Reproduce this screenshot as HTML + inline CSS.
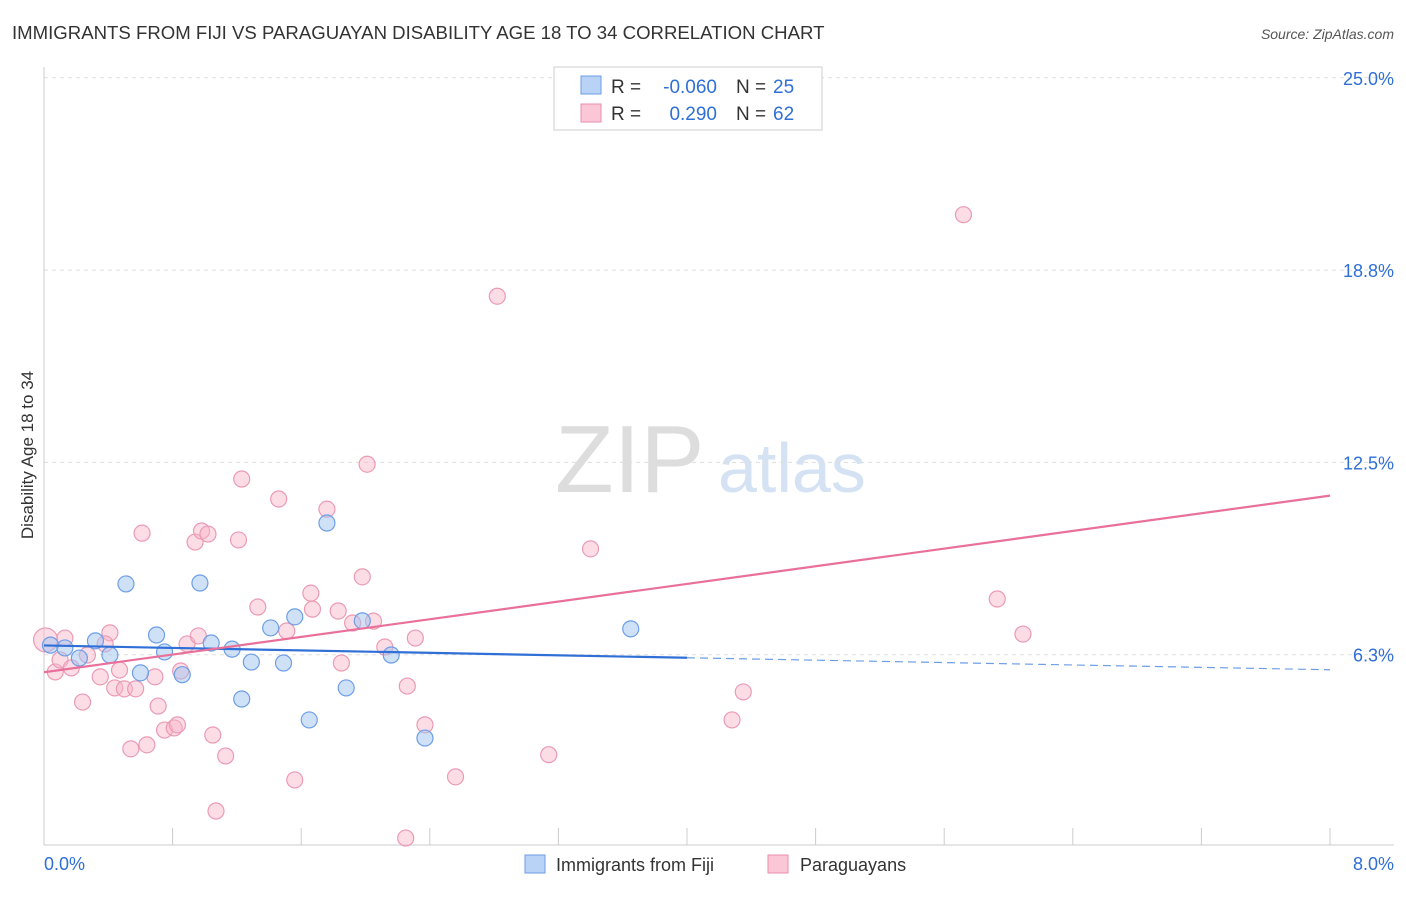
<!DOCTYPE html>
<html><head><meta charset="utf-8"><style>
body{margin:0;background:#fff;font-family:"Liberation Sans",sans-serif;}
svg text{font-family:"Liberation Sans",sans-serif;}
</style></head><body>
<svg id="chart" width="1406" height="892">
<text x="12" y="39" font-size="18.6" fill="#333">IMMIGRANTS FROM FIJI VS PARAGUAYAN DISABILITY AGE 18 TO 34 CORRELATION CHART</text>
<text x="1394" y="39" font-size="14" fill="#555" font-style="italic" text-anchor="end">Source: ZipAtlas.com</text>
<text x="555" y="492" font-size="96" fill="#ddd" font-family="Liberation Serif">ZIP</text>
<text x="718" y="492" font-size="70" fill="#d4e2f4">atlas</text>
<g id="grid"></g><g id="axes"></g>
<text transform="translate(33,455) rotate(-90)" font-size="17" fill="#333" text-anchor="middle">Disability Age 18 to 34</text>
<g id="marks"></g>
<g>
<rect x="554" y="67" width="268" height="63" fill="#fff" stroke="#ccc"/>
<rect x="581" y="76" width="20" height="18" fill="#b9d3f7" stroke="#6d9ee6"/>
<rect x="581" y="104" width="20" height="18" fill="#fbc6d6" stroke="#ea8fae"/>
<text x="611" y="93" font-size="19" fill="#333">R =</text>
<text x="717" y="93" font-size="19" fill="#2f6fd6" text-anchor="end">-0.060</text>
<text x="736" y="93" font-size="19" fill="#333">N =</text>
<text x="773" y="93" font-size="19" fill="#2f6fd6">25</text>
<text x="611" y="120" font-size="19" fill="#333">R =</text>
<text x="717" y="120" font-size="19" fill="#2f6fd6" text-anchor="end">0.290</text>
<text x="736" y="120" font-size="19" fill="#333">N =</text>
<text x="773" y="120" font-size="19" fill="#2f6fd6">62</text>
</g>
<g>
<rect x="525" y="855" width="20" height="18" fill="#b9d3f7" stroke="#6d9ee6"/>
<text x="556" y="871" font-size="18" fill="#333">Immigrants from Fiji</text>
<rect x="768" y="855" width="20" height="18" fill="#fbc6d6" stroke="#ea8fae"/>
<text x="800" y="871" font-size="18" fill="#333">Paraguayans</text>
</g>
</svg>
<script>
const yTicks=[6.25,12.5,18.75,25];
const yTickLabels=["6.3%","12.5%","18.8%","25.0%"];
const fijiX=[0.04,0.13,0.22,0.32,0.41,0.51,0.6,0.7,0.75,0.86,0.97,1.04,1.17,1.23,1.29,1.41,1.49,1.56,1.65,1.76,1.88,1.98,2.16,2.37,3.65];
const fijiY=[6.56,6.47,6.14,6.7,6.24,8.55,5.66,6.89,6.34,5.6,8.58,6.63,6.43,4.81,6.01,7.12,5.98,7.48,4.13,10.53,5.17,7.35,6.24,3.54,7.09];
const parX=[0.01,0.07,0.1,0.13,0.17,0.24,0.27,0.35,0.41,0.38,0.44,0.47,0.5,0.54,0.57,0.61,0.64,0.69,0.71,0.75,0.81,0.83,0.85,0.89,0.94,0.96,0.98,1.02,1.05,1.07,1.13,1.21,1.23,1.33,1.46,1.51,1.56,1.66,1.67,1.76,1.83,1.85,1.92,1.98,2.01,2.05,2.12,2.25,2.26,2.31,2.37,2.56,2.82,3.14,3.4,4.28,4.35,5.72,5.93,6.09];
const parY=[6.73,5.69,6.08,6.79,5.82,4.71,6.24,5.53,6.96,6.6,5.17,5.75,5.14,3.19,5.14,10.2,3.32,5.53,4.58,3.8,3.87,3.97,5.72,6.6,9.91,6.86,10.27,10.17,3.64,1.17,2.96,9.98,11.96,7.8,11.31,7.02,2.18,8.25,7.73,10.98,7.67,5.98,7.28,8.78,12.44,7.34,6.5,0.29,5.23,6.79,3.97,2.28,17.9,3.0,9.69,4.13,5.04,20.55,8.06,6.92];
const fijiTrend=[6.55,6.15,5.76];
const parTrend=[5.68,11.42];
const X=v=>44+v*160.75, Y=v=>847-v*30.77;
const ns="http://www.w3.org/2000/svg";
function mk(p,t,a){const e=document.createElementNS(ns,t);for(const k in a)e.setAttribute(k,a[k]);p.appendChild(e);return e;}
const grid=document.getElementById('grid'),axes=document.getElementById('axes'),marks=document.getElementById('marks');
yTicks.forEach((t,i)=>{
 const l=mk(grid,'line',{x1:44,x2:1394,y1:Y(t),y2:Y(t),stroke:'#ddd','stroke-dasharray':'4,4'});
 
 
 const tx=mk(axes,'text',{x:1394,y:Y(t)+7,'font-size':18,fill:'#2f6fd6','text-anchor':'end'});tx.textContent=yTickLabels[i];
 
 
});
const ax=mk(axes,'line',{x1:44,x2:1394,y1:845,y2:845,stroke:'#ccc'});


const ay=mk(axes,'line',{x1:44,x2:44,y1:67,y2:845,stroke:'#ccc'});


for(let i=1;i<=10;i++){const t=mk(axes,'line',{x1:X(i*0.8),x2:X(i*0.8),y1:828,y2:845,stroke:'#ccc'});
 
 }
[["0.0%",44,'start'],["8.0%",1394,'end']].forEach(a=>{const t=mk(axes,'text',{x:a[1],y:870,'font-size':18,fill:'#2f6fd6','text-anchor':a[2]});t.textContent=a[0];
 
 });
parX.forEach((x,i)=>{const c=mk(marks,'circle',{cx:X(x),cy:Y(parY[i]),r:i==0?12:8,fill:'rgba(248,180,200,0.45)',stroke:'#eb9ab5','stroke-width':1.2});
 
 });
fijiX.forEach((x,i)=>{const c=mk(marks,'circle',{cx:X(x),cy:Y(fijiY[i]),r:8,fill:'rgba(160,195,240,0.5)',stroke:'#6d9ee6','stroke-width':1.2});
 
 });
const l1=mk(marks,'line',{x1:X(0),y1:Y(fijiTrend[0]),x2:X(4),y2:Y(fijiTrend[1]),stroke:'#2f6fd6','stroke-width':2.2});


const l2=mk(marks,'line',{x1:X(4),y1:Y(fijiTrend[1]),x2:X(8),y2:Y(fijiTrend[2]),stroke:'#6d9ee6','stroke-width':1.2,'stroke-dasharray':'8,5'});


const l3=mk(marks,'line',{x1:X(0),y1:Y(parTrend[0]),x2:X(8),y2:Y(parTrend[1]),stroke:'#e8709a','stroke-width':2.2});


</script>
</body></html>
